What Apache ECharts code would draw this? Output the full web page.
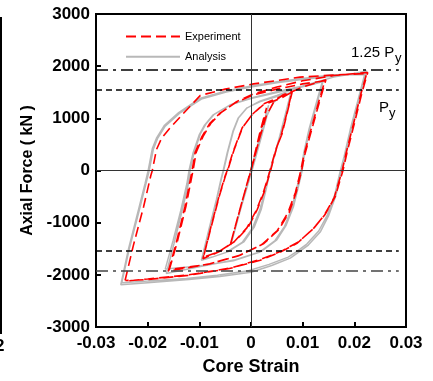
<!DOCTYPE html>
<html>
<head>
<meta charset="utf-8">
<script src="https://cdn.jsdelivr.net/npm/echarts@6/dist/echarts.min.js"></script>
<style>
  html, body { margin: 0; padding: 0; background: #fff; }
  #main { width: 433px; height: 381px; }
</style>
</head>
<body>
<div id="main"></div>
<script>
// axis ranges (strain / kN)
var strainRange = [-0.03, 0.03];
var forceRange = [-3000, 3000];
var py = 1540;
var py125 = 1925;

// analysis (gray) branches, [strain, force kN]
var anaStart = [[0, 0], [0.0020, 730], [0.0034, 1250], [0.0022, 820], [0.0000, 20], [-0.0020, -720], [-0.0039, -1430]];
var anaLoad1 = [[-0.0039, -1430], [-0.0020, -740], [0.0002, 0], [0.0020, 640], [0.0031, 1050], [0.0042, 1290], [0.0058, 1420], [0.0078, 1500]];
var anaL1Down1 = [[0.0078, 1500], [0.0068, 1110], [0.0055, 620], [0.0044, 240], [0.0037, 0], [0.0030, -330], [0.0020, -740], [0.0006, -1090], [-0.0014, -1370], [-0.0045, -1560], [-0.0075, -1660], [-0.0095, -1710]];
var anaL1Up1 = [[-0.0095, -1710], [-0.0080, -1100], [-0.0066, -550], [-0.0057, -150], [-0.0053, 0], [-0.0045, 350], [-0.0034, 760], [-0.0024, 1010], [-0.0008, 1200], [0.0018, 1320], [0.0050, 1420], [0.0077, 1490]];
var anaL1Down2 = [[0.0077, 1490], [0.0067, 1100], [0.0054, 600], [0.0043, 220], [0.0036, -20], [0.0028, -350], [0.0017, -760], [0.0003, -1100], [-0.0017, -1380], [-0.0048, -1570], [-0.0078, -1670], [-0.0096, -1720]];
var anaL1Up2 = [[-0.0096, -1720], [-0.0081, -1110], [-0.0067, -560], [-0.0058, -160], [-0.0054, -10], [-0.0046, 340], [-0.0035, 750], [-0.0025, 1000], [-0.0009, 1190], [0.0017, 1330], [0.0050, 1440], [0.0080, 1550], [0.0110, 1640], [0.0140, 1730]];
var anaL2Down1 = [[0.0140, 1730], [0.0128, 1300], [0.0114, 800], [0.0104, 350], [0.0099, 0], [0.0092, -300], [0.0082, -700], [0.0068, -1050], [0.0050, -1330], [0.0020, -1550], [-0.0030, -1710], [-0.0098, -1840], [-0.0164, -1975]];
var anaL2Up1 = [[-0.0164, -1975], [-0.0149, -1400], [-0.0134, -800], [-0.0121, -250], [-0.0118, 0], [-0.0110, 350], [-0.0098, 700], [-0.0088, 880], [-0.0072, 1070], [-0.0040, 1260], [0.0000, 1380], [0.0044, 1480], [0.0080, 1560], [0.0115, 1640], [0.0138, 1700]];
var anaL2Down2 = [[0.0138, 1700], [0.0126, 1280], [0.0112, 780], [0.0102, 330], [0.0097, -10], [0.0089, -320], [0.0079, -720], [0.0065, -1070], [0.0046, -1350], [0.0016, -1570], [-0.0034, -1730], [-0.0100, -1830], [-0.0166, -1890]];
var anaL2Up2 = [[-0.0166, -1890], [-0.0151, -1350], [-0.0136, -770], [-0.0124, -250], [-0.0120, 0], [-0.0112, 340], [-0.0100, 690], [-0.0090, 870], [-0.0074, 1060], [-0.0042, 1250], [0.0000, 1390], [0.0050, 1510], [0.0100, 1620], [0.0160, 1790], [0.0200, 1860], [0.0224, 1910]];
var anaL3Down1 = [[0.0224, 1910], [0.0210, 1400], [0.0195, 800], [0.0182, 250], [0.0174, -50], [0.0164, -490], [0.0150, -870], [0.0134, -1180], [0.0111, -1430], [0.0089, -1590], [0.0076, -1680], [0.0040, -1820], [0.0000, -1950], [-0.0060, -2030], [-0.0120, -2090], [-0.0200, -2150], [-0.0252, -2190]];
var anaL3Up1 = [[-0.0252, -2190], [-0.0237, -1500], [-0.0219, -800], [-0.0205, -250], [-0.0199, 0], [-0.0191, 420], [-0.0183, 620], [-0.0168, 860], [-0.0140, 1110], [-0.0098, 1385], [-0.0050, 1520], [0.0000, 1620], [0.0050, 1700], [0.0095, 1760], [0.0160, 1835], [0.0220, 1840]];
var anaL3Down2 = [[0.0220, 1840], [0.0207, 1350], [0.0192, 780], [0.0180, 260], [0.0172, -40], [0.0162, -470], [0.0148, -850], [0.0131, -1160], [0.0108, -1410], [0.0086, -1570], [0.0072, -1660], [0.0035, -1800], [-0.0005, -1920], [-0.0065, -2010], [-0.0125, -2070], [-0.0200, -2120], [-0.0250, -2150]];
var anaL3Up2 = [[-0.0250, -2150], [-0.0235, -1480], [-0.0217, -790], [-0.0203, -240], [-0.0197, 0], [-0.0189, 410], [-0.0181, 610], [-0.0166, 850], [-0.0138, 1100], [-0.0096, 1370], [-0.0048, 1505], [0.0000, 1600], [0.0050, 1680], [0.0095, 1740], [0.0160, 1810], [0.0222, 1880]];

// experiment (red dashed) branches
var expStart = [[0, 0], [0.0015, 560], [0.0030, 1200], [0.0018, 760], [0.0002, 100], [-0.0020, -700], [-0.0040, -1420]];
var expLoad1 = [[-0.0040, -1420], [-0.0022, -760], [0.0002, 70], [0.0015, 560], [0.0030, 1060], [0.0045, 1330], [0.0062, 1450], [0.0080, 1520]];
var expL1Down1 = [[0.0080, 1520], [0.0070, 1100], [0.0060, 700], [0.0050, 450], [0.0038, 0], [0.0026, -400], [0.0012, -750], [-0.0005, -1080], [-0.0030, -1350], [-0.0060, -1550], [-0.0093, -1690]];
var expL1Up1 = [[-0.0093, -1690], [-0.0078, -1100], [-0.0062, -500], [-0.0050, -100], [-0.0046, 0], [-0.0034, 380], [-0.0017, 820], [0.0002, 1070], [0.0024, 1260], [0.0057, 1380], [0.0079, 1500]];
var expL1Down2 = [[0.0079, 1500], [0.0069, 1080], [0.0058, 660], [0.0048, 400], [0.0036, -30], [0.0024, -420], [0.0010, -770], [-0.0008, -1100], [-0.0033, -1370], [-0.0063, -1560], [-0.0092, -1660]];
var expL1Up2 = [[-0.0092, -1660], [-0.0077, -1080], [-0.0061, -480], [-0.0049, -90], [-0.0045, 10], [-0.0033, 390], [-0.0016, 830], [0.0003, 1080], [0.0025, 1280], [0.0058, 1420], [0.0100, 1600], [0.0145, 1740]];
var expL2Down1 = [[0.0145, 1740], [0.0132, 1300], [0.0118, 800], [0.0104, 300], [0.0098, 0], [0.0088, -400], [0.0074, -800], [0.0054, -1130], [0.0025, -1400], [-0.0020, -1620], [-0.0080, -1790], [-0.0160, -1930]];
var expL2Up1 = [[-0.0160, -1930], [-0.0145, -1400], [-0.0128, -700], [-0.0114, 0], [-0.0108, 350], [-0.0095, 650], [-0.0080, 900], [-0.0060, 1100], [-0.0030, 1300], [0.0005, 1450], [0.0050, 1560], [0.0100, 1660], [0.0143, 1720]];
var expL2Down2 = [[0.0143, 1720], [0.0130, 1280], [0.0116, 780], [0.0102, 280], [0.0096, -20], [0.0086, -420], [0.0071, -820], [0.0051, -1150], [0.0021, -1420], [-0.0025, -1640], [-0.0085, -1800], [-0.0158, -1900]];
var expL2Up2 = [[-0.0158, -1900], [-0.0143, -1380], [-0.0126, -690], [-0.0112, 10], [-0.0106, 350], [-0.0093, 650], [-0.0078, 900], [-0.0058, 1110], [-0.0028, 1320], [0.0005, 1470], [0.0050, 1600], [0.0100, 1720], [0.0160, 1820], [0.0226, 1880]];
var expL3Down1 = [[0.0226, 1880], [0.0215, 1500], [0.0200, 900], [0.0186, 350], [0.0178, 0], [0.0163, -500], [0.0143, -850], [0.0122, -1100], [0.0092, -1370], [0.0060, -1540], [0.0020, -1700], [-0.0040, -1870], [-0.0120, -2000], [-0.0200, -2080], [-0.0244, -2120]];
var expL3Up1 = [[-0.0244, -2120], [-0.0228, -1450], [-0.0208, -700], [-0.0194, -100], [-0.0191, 0], [-0.0183, 400], [-0.0173, 620], [-0.0158, 800], [-0.0135, 1050], [-0.0098, 1440], [-0.0050, 1560], [0.0005, 1660], [0.0095, 1790], [0.0160, 1830], [0.0224, 1860]];
var expL3Down2 = [[0.0224, 1860], [0.0213, 1480], [0.0198, 880], [0.0184, 330], [0.0176, -20], [0.0161, -520], [0.0141, -870], [0.0120, -1120], [0.0090, -1390], [0.0058, -1560], [0.0018, -1720], [-0.0042, -1880], [-0.0122, -2010], [-0.0200, -2090], [-0.0243, -2110]];

var analysis = [].concat(anaStart, anaLoad1, anaL1Down1, anaL1Up1, anaL1Down2, anaL1Up2,
  anaL2Down1, anaL2Up1, anaL2Down2, anaL2Up2, anaL3Down1, anaL3Up1, anaL3Down2, anaL3Up2);
var experiment = [].concat(expStart, expLoad1, expL1Down1, expL1Up1, expL1Down2, expL1Up2,
  expL2Down1, expL2Up1, expL2Down2, expL2Up2, expL3Down1, expL3Up1, expL3Down2);

var myChart = echarts.init(document.getElementById('main'));

var boldLabel = { color: '#000', fontFamily: 'Liberation Sans, Arial', fontWeight: 'bold', fontSize: 17 };
var refEnd = 0.0286;

var option = {
  animation: false,
  grid: { left: 96, right: 27, top: 14, bottom: 48, show: true, borderColor: '#000', borderWidth: 2 },
  legend: {
    data: ['Experiment', 'Analysis'],
    orient: 'vertical',
    left: 120, top: 26,
    itemWidth: 54, itemHeight: 14, itemGap: 9,
    itemStyle: { opacity: 0 },
    textStyle: { fontFamily: 'Liberation Sans', fontSize: 11, color: '#000' }
  },
  xAxis: {
    type: 'value',
    min: strainRange[0], max: strainRange[1], interval: 0.01,
    name: 'Core Strain', nameLocation: 'middle', nameGap: 31,
    nameTextStyle: { color: '#000', fontFamily: 'Liberation Sans, Arial', fontWeight: 'bold', fontSize: 18 },
    axisLine: { onZero: false, lineStyle: { color: '#000', width: 2 } },
    axisTick: { inside: true, length: 5, lineStyle: { color: '#000', width: 2 } },
    axisLabel: Object.assign({ margin: 8, formatter: function (v) { return String(Math.round(v * 100) / 100); } }, boldLabel),
    splitLine: { show: false }
  },
  yAxis: {
    type: 'value',
    min: forceRange[0], max: forceRange[1], interval: 1000,
    name: 'Axial Force ( kN )', nameLocation: 'middle', nameGap: 58,
    nameTextStyle: { color: '#000', fontFamily: 'Liberation Sans, Arial', fontWeight: 'bold', fontSize: 16 },
    axisLine: { onZero: false, lineStyle: { color: '#000', width: 2 } },
    axisTick: { inside: true, length: 5, lineStyle: { color: '#000', width: 2 } },
    axisLabel: Object.assign({ margin: 6, formatter: function (v) { return String(v); } }, boldLabel),
    splitLine: { show: false }
  },
  series: [
    {
      name: 'Analysis',
      type: 'line',
      data: analysis,
      showSymbol: false, symbol: 'none',
      lineStyle: { color: '#b8b8b8', width: 1.5 },
      itemStyle: { color: '#b8b8b8' },
      markLine: {
        silent: true, symbol: 'none',
        label: { show: false },
        data: [
          [{ coord: [strainRange[0], py125], lineStyle: { color: '#000', width: 1.5, type: [12, 5, 3, 5] } }, { coord: [refEnd, py125] }],
          [{ coord: [strainRange[0], py], lineStyle: { color: '#000', width: 1.5, type: [6, 4] } }, { coord: [refEnd, py] }],
          [{ coord: [strainRange[0], -py], lineStyle: { color: '#000', width: 1.5, type: [6, 4] } }, { coord: [refEnd, -py] }],
          [{ coord: [strainRange[0], -py125], lineStyle: { color: '#444', width: 1.5, type: [12, 5, 3, 5] } }, { coord: [refEnd, -py125] }],
          { xAxis: 0, lineStyle: { color: '#333', width: 1, type: 'solid' } },
          { yAxis: 0, lineStyle: { color: '#333', width: 1, type: 'solid' } }
        ]
      }
    },
    {
      name: 'Experiment',
      type: 'line',
      data: experiment,
      showSymbol: false, symbol: 'none',
      lineStyle: { color: '#ff0000', width: 1.6, type: [10, 5] },
      itemStyle: { color: '#ff0000' }
    }
  ],
  graphic: [
    { type: 'text', left: 351, top: 45, style: { text: '1.25 P', fill: '#000', font: '15px Liberation Sans, Arial' } },
    { type: 'text', left: 395, top: 52, style: { text: 'y', fill: '#000', font: '13px Liberation Sans, Arial' } },
    { type: 'text', left: 379, top: 100, style: { text: 'P', fill: '#000', font: '15px Liberation Sans, Arial' } },
    { type: 'text', left: 389, top: 107, style: { text: 'y', fill: '#000', font: '13px Liberation Sans, Arial' } },
    { type: 'line', shape: { x1: 1, y1: 17, x2: 1, y2: 334 }, style: { stroke: '#000', lineWidth: 2 } },
    { type: 'text', left: -5, top: 338, style: { text: '2', fill: '#000', font: 'bold 17px Liberation Sans, Arial' } }
  ]
};
myChart.setOption(option);
</script>
</body>
</html>
